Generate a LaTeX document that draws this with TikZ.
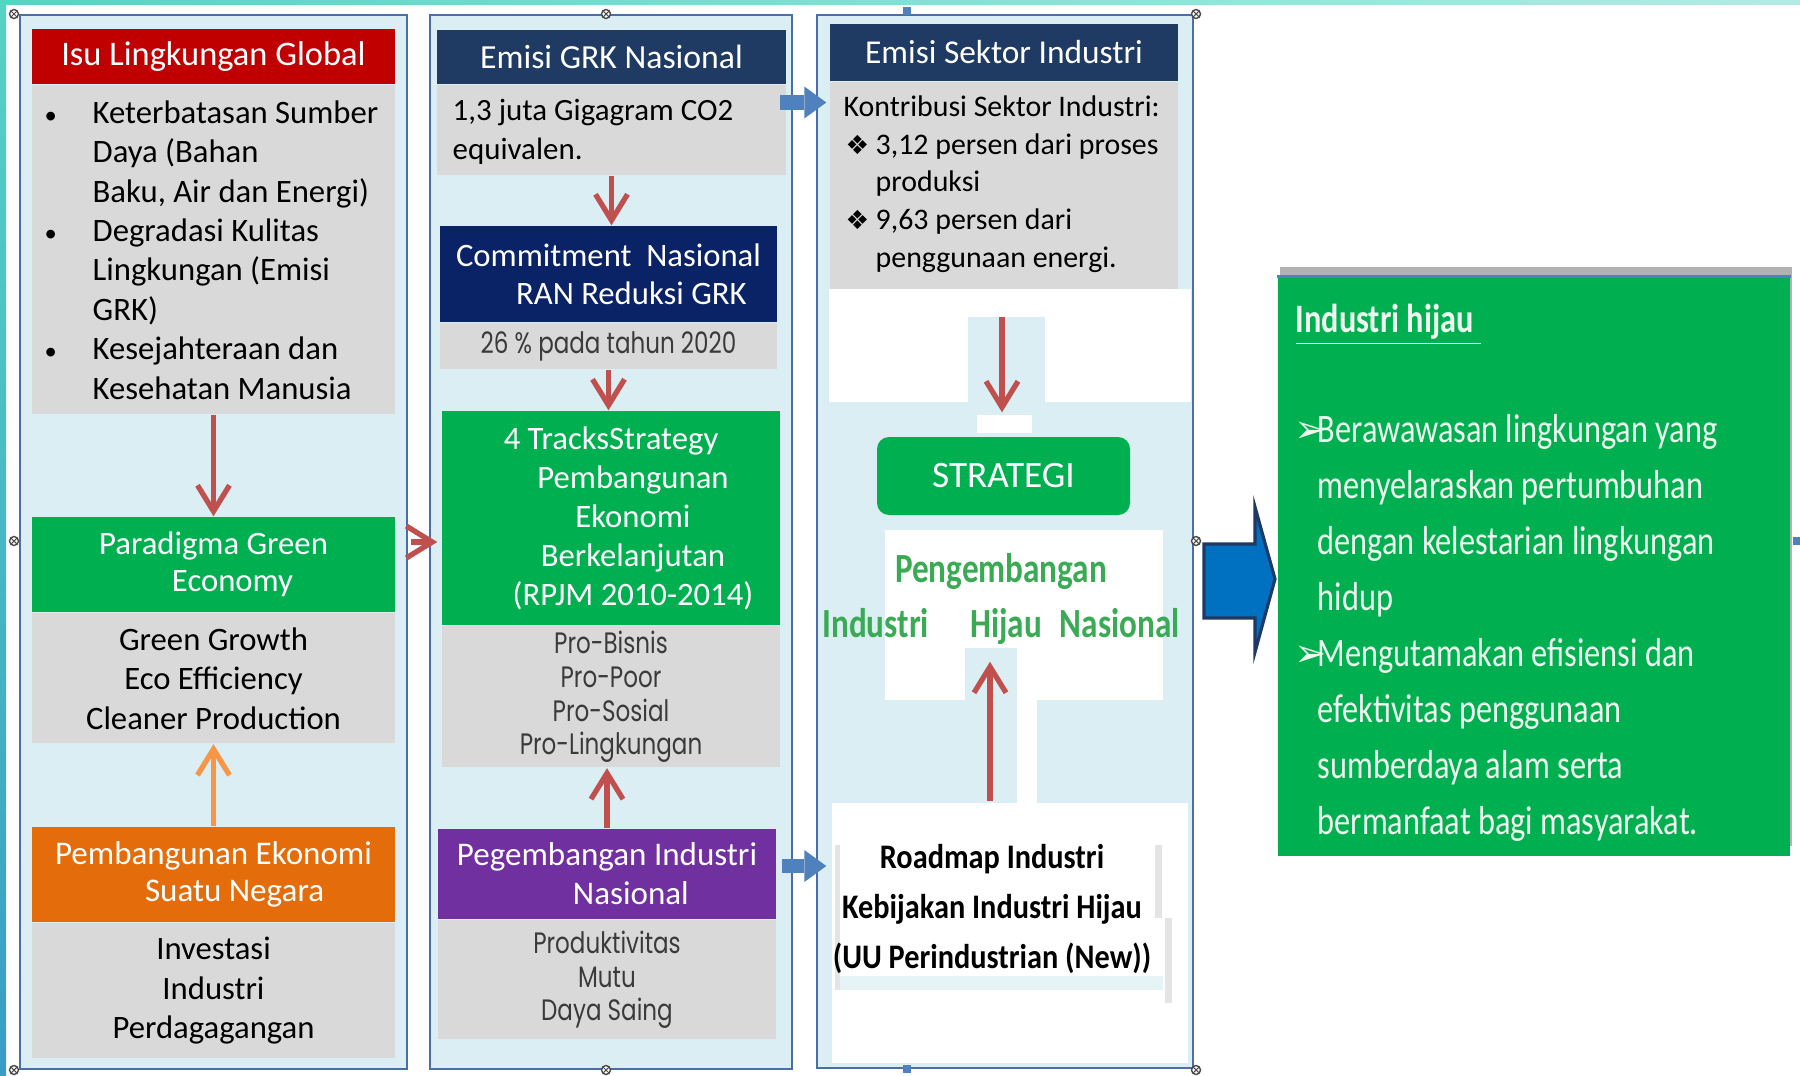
\documentclass[tikz,border=0pt]{standalone}
\usepackage{fontspec}
\setmainfont{Carlito}
\newfontfamily\condfont[FakeStretch=0.8]{Carlito}
\newfontfamily\roadfont[FakeStretch=0.88]{Carlito}
\newfontfamily\geofont[FakeStretch=0.78]{Poppins}
\newfontfamily\symfont{DejaVu Sans}
\usepackage{xcolor}
\usetikzlibrary{arrows.meta,positioning,shadows}

\definecolor{frameblue}{HTML}{4A6FA8}
\definecolor{framefill}{HTML}{DBEEF4}
\definecolor{boxgrey}{HTML}{D9D9D9}
\definecolor{isured}{HTML}{C00000}
\definecolor{ecogreen}{HTML}{00B050}
\definecolor{headnavy}{HTML}{1F3B63}
\definecolor{darknavy}{HTML}{0A2266}
\definecolor{ecoorange}{HTML}{E46C0A}
\definecolor{indpurple}{HTML}{7030A0}
\definecolor{arrowred}{HTML}{C0504D}
\definecolor{arroworange}{HTML}{F79646}
\definecolor{arrowblue}{HTML}{4F81BD}
\definecolor{bigblue}{HTML}{0070C0}
\definecolor{bignavy}{HTML}{1F3864}
\definecolor{textgreen}{HTML}{3AAA55}
\definecolor{paletext}{HTML}{EEF8EE}
\definecolor{geogrey}{HTML}{3A3A3A}
\definecolor{bandteal}{HTML}{56D3C3}
\definecolor{bandblue}{HTML}{3A9CC6}

\newcommand{\isubullet}{\llap{\makebox[4.8mm][l]{{\fontsize{7}{7}\selectfont\textbullet}}}}
\newcommand{\sectorbullet}{\makebox[3.2mm][l]{\hspace{0.2mm}{\symfont\fontsize{7.5}{7.5}\selectfont ❖}}}
\newcommand{\hijaubullet}{\llap{\makebox[2.3mm][l]{{\symfont\fontsize{11}{11}\selectfont ➢}}}}

\tikzstyle{column} = [rectangle, draw=frameblue, fill=framefill, line width=0.8pt, inner sep=0pt]
\tikzstyle{headbox} = [rectangle, inner sep=0pt, text=white, align=center, font=\fontsize{9.8}{12}\selectfont]
\tikzstyle{greybox} = [rectangle, fill=boxgrey, inner sep=0pt, align=center, font=\fontsize{9.3}{11.2}\selectfont]
\tikzstyle{geotext} = [text=geogrey, font=\geofont\fontsize{8.4}{9.6}\selectfont]
\tikzstyle{redArrow} = [draw=arrowred, line width=1.5pt, -{Straight Barb[length=2.6mm,width=3.2mm]}]
\tikzstyle{orangeArrow} = [draw=arroworange, line width=1.5pt, -{Straight Barb[length=2.6mm,width=3.2mm]}]
\tikzstyle{blueArrow} = [draw=arrowblue, line width=4.2pt, -{Triangle[length=2.2mm,width=3.2mm,line width=0pt]}]
\tikzstyle{bigArrow} = [fill=bigblue, draw=bignavy, line width=0.9pt, line join=miter]
\tikzstyle{patch} = [fill=white]
\tikzstyle{handle} = [draw=black!70, fill=white, line width=0.4pt]

\begin{document}
\begin{tikzpicture}[x=0.1mm, y=-0.1mm]
\useasboundingbox (0,0) rectangle (1800,1076);
\fill[white] (0,0) rectangle (1800,1076);
\shade[left color=bandteal, right color=bandteal!45] (0,0) rectangle (1800,5);	% Rand oben
\shade[top color=bandteal, bottom color=bandblue] (0,0) rectangle (6,1076);	% Rand links

% Spalte 1: globale Umweltfragen
\node[column, minimum width=38.7mm, minimum height=105.4mm] (col-isu) at (213.5,542) {};
\node[headbox, fill=isured, minimum width=36.3mm, minimum height=5.5mm] (isu-head) at (213.5,56.5) {Isu Lingkungan Global};
\node[greybox, minimum width=36.3mm, minimum height=32.9mm, below=0pt of isu-head] (isu-body) {};
\node[anchor=base west, align=left, inner sep=0pt, font=\fontsize{9.3}{11.2}\selectfont] (isu-text) at (92,399) {\isubullet Keterbatasan Sumber\\Daya (Bahan\\Baku, Air dan Energi)\\\isubullet Degradasi Kulitas\\Lingkungan (Emisi\\GRK)\\\isubullet Kesejahteraan dan\\Kesehatan Manusia};	% base = letzte Zeile
\node[headbox, fill=ecogreen, minimum width=36.3mm, minimum height=9.5mm, font=\fontsize{9.3}{10.5}\selectfont] (eco-head) at (213.5,564.5) {Paradigma Green\\\hspace*{10.8pt}Economy};
\node[greybox, minimum width=36.3mm, minimum height=13mm, below=0pt of eco-head] (eco-body) {Green Growth\\Eco Efficiency\\Cleaner Production};
\node[headbox, fill=ecoorange, minimum width=36.3mm, minimum height=9.5mm, font=\fontsize{9.4}{10.5}\selectfont] (ngr-head) at (213.5,874.5) {Pembangunan Ekonomi\\\hspace*{12pt}Suatu Negara};
\node[greybox, minimum width=36.3mm, minimum height=13.5mm, below=0pt of ngr-head] (ngr-body) {Investasi\\Industri\\Perdagagangan};

\draw[redArrow] (isu-body.south) -- (eco-head.north);
\draw[orangeArrow] (ngr-head.north) -- (eco-body.south);

% Spalte 2: nationale Emissionen
\node[column, minimum width=36.2mm, minimum height=105.4mm] (col-ghg) at (611,542) {};
\node[headbox, fill=headnavy, minimum width=34.9mm, minimum height=5.4mm, font=\fontsize{9.6}{12}\selectfont] (ghg-head) at (611.5,57) {Emisi GRK Nasional};
\node[greybox, minimum width=34.9mm, minimum height=9mm, below=0pt of ghg-head] (ghg-body) {};
\node[anchor=base west, align=left, inner sep=0pt, font=\fontsize{8.8}{11.1}\selectfont] (ghg-text) at (452,160) {1,3 juta Gigagram CO2\\equivalen.};
\node[headbox, fill=darknavy, minimum width=33.7mm, minimum height=9.6mm, font=\fontsize{9.3}{10.8}\selectfont] (ran-head) at (608.5,274) {Commitment\ \ Nasional\\\hspace*{13pt}RAN Reduksi GRK};
\node[greybox, geotext, minimum width=33.7mm, minimum height=4.6mm, below=0pt of ran-head] (ran-body) {26 \% pada tahun 2020};
\node[headbox, fill=ecogreen, minimum width=33.8mm, minimum height=21.4mm, font=\fontsize{9.3}{11.1}\selectfont] (tracks-head) at (611,518) {4 TracksStrategy\\\hspace*{12.5pt}Pembangunan\\\hspace*{12.5pt}Ekonomi\\\hspace*{12.5pt}Berkelanjutan\\\hspace*{12.5pt}(RPJM 2010-2014)};
\node[greybox, geotext, minimum width=33.8mm, minimum height=14.1mm, below=0pt of tracks-head] (tracks-body) {Pro-Bisnis\\Pro-Poor\\Pro-Sosial\\Pro-Lingkungan};
\node[headbox, fill=indpurple, minimum width=33.8mm, minimum height=9mm, font=\fontsize{9.4}{11.1}\selectfont] (ind-head) at (607,874) {Pegembangan Industri\\\hspace*{13.6pt}Nasional};
\node[greybox, geotext, minimum width=33.8mm, minimum height=11.9mm, below=0pt of ind-head] (ind-body) {Produktivitas\\Mutu\\Daya Saing};

\draw[redArrow] (ghg-body.south) -- (ghg-body.south |- ran-head.north);
\draw[redArrow] (ran-body.south) -- (ran-body.south |- tracks-head.north);
\draw[redArrow] (ind-head.north) -- (ind-head.north |- tracks-body.south);
\draw[redArrow, shorten <=0.3mm, shorten >=0.4mm] (col-isu.east) -- (col-isu.east -| tracks-head.west);

% Spalte 3: Industriesektor
\node[column, minimum width=37.6mm, minimum height=105.3mm] (col-sector) at (1005,541.5) {};
\node[headbox, fill=headnavy, minimum width=34.8mm, minimum height=5.7mm, font=\fontsize{9.5}{12}\selectfont] (sector-head) at (1004,52.5) {Emisi Sektor Industri};
\node[greybox, minimum width=34.8mm, minimum height=20.8mm, below=0pt of sector-head] (sector-body) {};
\node[anchor=base west, align=left, inner sep=0pt, font=\fontsize{8.5}{10.7}\selectfont] (sector-text) at (843,267) {Kontribusi Sektor Industri:\\\sectorbullet 3,12 persen dari proses\\\hspace*{3.2mm}produksi\\\sectorbullet 9,63 persen dari\\\hspace*{3.2mm}penggunaan energi.};
\fill[patch] (829,289) rectangle (1191,402);
\fill[framefill] (968,317) rectangle (1045,402);
\fill[patch] (977,415) rectangle (1032,433);
\fill[patch] (885,530) rectangle (1163,700);
\fill[framefill] (965,648) rectangle (1017,805);
\fill[patch] (1017,700) rectangle (1037,805);
\node[rectangle, rounded corners=1.2mm, fill=ecogreen, text=white, minimum width=25.3mm, minimum height=7.8mm, font=\fontsize{10.6}{12}\selectfont] (strategi) at (1003.5,476) {STRATEGI};
\node[anchor=base, align=center, inner sep=0pt, text=textgreen, font=\condfont\bfseries\fontsize{11.8}{15.6}\selectfont] (hijau-text) at (1001,637) {Pengembangan\\Industri\hspace{11.7pt}Hijau\hspace{5.1pt}Nasional};
\node[rectangle, fill=white, minimum width=35.6mm, minimum height=26mm, inner sep=0pt] (road-box) at (1010,933) {};
\fill[boxgrey!70] (835,845) rectangle (840,990);
\fill[boxgrey!70] (1155,845) rectangle (1162,918);
\fill[boxgrey!70] (1165,918) rectangle (1172,1003);
\fill[framefill!70] (840,976) rectangle (1163,990);
\node[anchor=base, align=center, inner sep=0pt, font=\roadfont\bfseries\fontsize{9.8}{14.1}\selectfont] (road-text) at (992,968) {Roadmap Industri\\Kebijakan Industri Hijau\\(UU Perindustrian (New))};

\coordinate (strat-in) at (1002,317);
\draw[redArrow, shorten >=2.4mm] (strat-in) -- (strat-in |- strategi.north);
\coordinate (road-out) at (990,801);
\draw[redArrow, shorten >=1.7mm] (road-out) -- (road-out |- hijau-text.south);

% Verbindungen Spalte 2 -> Spalte 3
\coordinate (ghg-out) at (780,102.5);
\draw[blueArrow, shorten >=0.3mm] (ghg-out) -- (ghg-out -| sector-body.west);
\coordinate (ind-out) at (782,866);
\draw[blueArrow, shorten >=0.5mm] (ind-out) -- (ind-out -| road-box.west);

% grosser Pfeil und Ergebnis
\draw[bigArrow] (1204,544) -- (1255,544) -- (1255,507) -- (1275,579) -- (1255,652) -- (1255,618) -- (1204,618) -- cycle;
\node[rectangle, fill=ecogreen, minimum width=51.2mm, minimum height=57.9mm, inner sep=0pt, drop shadow={shadow xshift=0.2mm, shadow yshift=1mm, opacity=0.3, fill=black}] (hijau-box) at (1534,566.5) {};
\draw[arrowblue, line width=0.9pt] (hijau-box.north west) -- (hijau-box.north east);
\node[anchor=base west, inner sep=0pt, text=paletext, font=\condfont\bfseries\fontsize{11.5}{14}\selectfont] (hijau-title) at (1295,332) {\underline{Industri hijau\ }};
\node[anchor=base west, align=left, inner sep=0pt, text=paletext, font=\condfont\fontsize{11.5}{15.9}\selectfont] (hijau-list) at (1317,834) {\hijaubullet Berawawasan lingkungan yang\\menyelaraskan pertumbuhan\\dengan kelestarian lingkungan\\hidup\\\hijaubullet Mengutamakan efisiensi dan\\efektivitas penggunaan\\sumberdaya alam serta\\bermanfaat bagi masyarakat.};

% Anfasser der Auswahl
\foreach \hx/\hy in {14/14, 606/14, 1196/14, 14/541, 1196/541, 14/1070, 606/1070, 1196/1070}{
	\draw[handle] (\hx,\hy) circle (4.5);
	\draw[black!70, line width=0.3pt] (\hx-3,\hy-3) -- (\hx+3,\hy+3) (\hx-3,\hy+3) -- (\hx+3,\hy-3);
}
\foreach \sx/\sy in {907/11, 907/1069, 1797/541}
	\fill[arrowblue] (\sx-4,\sy-4) rectangle (\sx+4,\sy+4);
\end{tikzpicture}
\end{document}
